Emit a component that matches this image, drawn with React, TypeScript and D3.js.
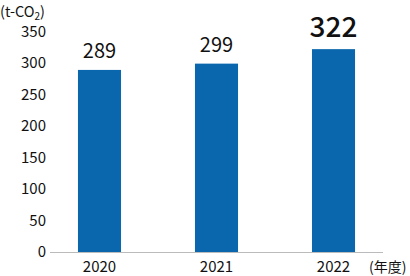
import React from "react";
import * as d3 from "d3";

const categories = ["2020", "2021", "2022"];
const values = [289, 299, 322];
const yTicks = [0, 50, 100, 150, 200, 250, 300, 350];
const unitLabel = "(t-CO";
const xUnit = "(年度)";

const W = 410;
const H = 276;
const FONT = "'Noto Sans CJK JP', 'Noto Sans', sans-serif";

export default function App() {
  const x = d3
    .scaleBand<string>()
    .domain(categories)
    .range([50, 383])
    .paddingInner(0.632)
    .paddingOuter(0.239);
  const y = d3.scaleLinear().domain([0, 350]).range([252, 31.5]);

  return (
    <svg
      width={W}
      height={H}
      style={{ position: "absolute", left: 0, top: 0, background: "#fff" }}
      fontFamily={FONT}
    >
      <text x={0} y={16.5} fontSize={14.5} fill="#111">
        {unitLabel}
        <tspan fontSize={10} dy={3}>2</tspan>
        <tspan dy={-3}>)</tspan>
      </text>
      {yTicks.map((t) => (
        <text
          key={t}
          x={46}
          y={y(t)}
          dy="0.35em"
          textAnchor="end"
          fontSize={15}
          fill="#111"
        >
          {t}
        </text>
      ))}
      <line x1={50} x2={383} y1={y(0) + 0.5} y2={y(0) + 0.5} stroke="#bbb" strokeWidth={1} />
      {categories.map((c, i) => (
        <g key={c}>
          <rect
            x={x(c)!}
            y={y(values[i])}
            width={x.bandwidth()}
            height={y(0) - y(values[i])}
            fill="#0a67ae"
          />
          <text
            x={x(c)! + x.bandwidth() / 2}
            y={y(values[i]) - 12}
            textAnchor="middle"
            fontSize={i === 2 ? 28 : 20}
            fontWeight={i === 2 ? 500 : 400}
            fill="#111"
          >
            {values[i]}
          </text>
          <text
            x={x(c)! + x.bandwidth() / 2}
            y={272}
            textAnchor="middle"
            fontSize={15}
            fill="#111"
          >
            {c}
          </text>
        </g>
      ))}
      <text x={369} y={272} fontSize={14} fill="#111">
        {xUnit}
      </text>
    </svg>
  );
}
